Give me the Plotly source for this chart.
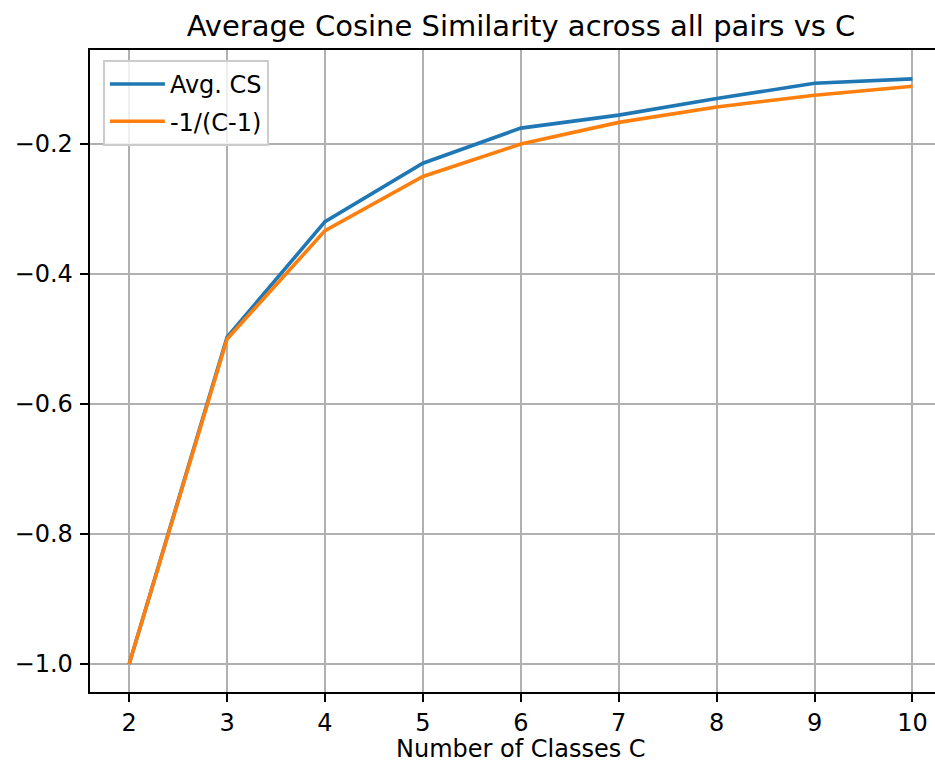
import plotly.graph_objects as go

num_classes = [2, 3, 4, 5, 6, 7, 8, 9, 10]
avg_cs = [-1.0, -0.497, -0.3195, -0.2295, -0.1755, -0.1555, -0.130, -0.1065, -0.0998]
neg_inv = [-1.0, -0.5, -0.3333, -0.25, -0.2, -0.1667, -0.1429, -0.125, -0.1111]
y_ticks = [-1.0, -0.8, -0.6, -0.4, -0.2]

W, H = 935, 764
ML, MR, MT, MB = 90, 0, 50, 72
FONT = "DejaVu Sans"
CENTER_X = (521 - ML) / (W - ML - MR)

fig = go.Figure()
fig.add_trace(go.Scatter(x=num_classes, y=avg_cs, mode="lines", name="Avg. CS",
                         legendgroup="a",
                         line=dict(color="#1f77b4", width=3.6)))
fig.add_trace(go.Scatter(x=num_classes, y=neg_inv, mode="lines", name="-1/(C-1)",
                         legendgroup="b",
                         line=dict(color="#ff7f0e", width=3.6)))

axis_common = dict(
    showgrid=True, gridcolor="#b0b0b0", gridwidth=1.9,
    showline=True, linecolor="black", linewidth=1.9,
    ticks="outside", ticklen=8.4, tickwidth=1.9, tickcolor="black",
    zeroline=False,
    tickfont=dict(family=FONT, size=24, color="black"),
)

fig.update_layout(
    width=W, height=H,
    margin=dict(l=ML, r=MR, t=MT, b=MB, pad=0),
    paper_bgcolor="white", plot_bgcolor="white",
    font=dict(family=FONT, size=24, color="black"),
    title=dict(text="Average Cosine Similarity across all pairs vs C",
               font=dict(family=FONT, size=29, color="black"),
               x=CENTER_X, xanchor="center",
               xref="paper", yref="container", y=1 - 26 / H, yanchor="middle"),
    xaxis=dict(range=[1.6, 10.23], tickvals=num_classes,
               mirror=True,
               **axis_common),
    yaxis=dict(range=[-1.0432, -0.0553], tickvals=y_ticks, tickformat=".1f",
               ticklabelstandoff=2,
               **axis_common),
    legend=dict(x=(103 - ML) / (W - ML - MR), y=1 - 10 / (H - MT - MB),
                xanchor="left", yanchor="top",
                itemwidth=55, tracegroupgap=3,
                bgcolor="rgba(255,255,255,0.8)", bordercolor="#cccccc",
                borderwidth=1.9, font=dict(family=FONT, size=24, color="black")),
    showlegend=True,
)
fig.add_annotation(text="Number of Classes C", xref="paper", yref="paper",
                   x=CENTER_X, y=-(H - 0.5 - (H - MB)) / (H - MT - MB),
                   xanchor="center", yanchor="bottom", showarrow=False,
                   borderpad=0,
                   font=dict(family=FONT, size=24, color="black"))

fig.write_html("out.html", config={"displayModeBar": False},
               post_script="document.body.style.margin='0';")
